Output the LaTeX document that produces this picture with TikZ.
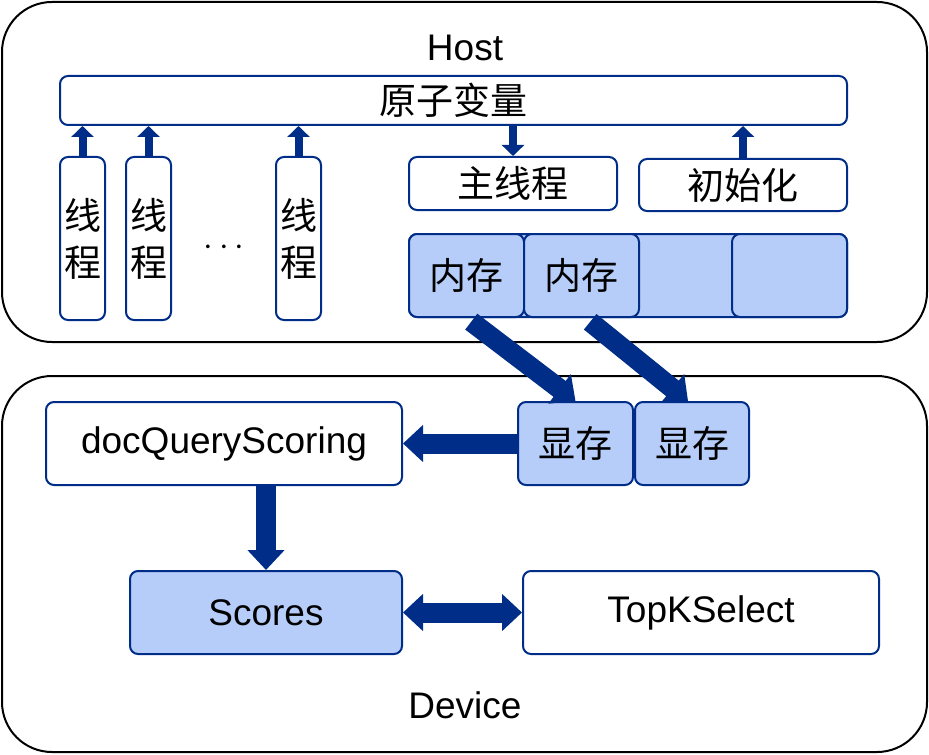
\documentclass[tikz,border=0pt]{standalone}
\usepackage{fontspec}
\setmainfont{Liberation Sans}
\newfontfamily\cjk{Noto Sans CJK SC}
\usetikzlibrary{arrows.meta}
\definecolor{navy}{RGB}{0,45,135}
\definecolor{memblue}{RGB}{182,205,250}
\tikzset{
    outerbox/.style={draw=black, line width=1pt, rounded corners=25pt, inner sep=0pt},
    unitbox/.style={draw=navy, line width=1pt, fill=white, rounded corners=4pt, inner sep=0pt,
        font=\fontsize{18.5pt}{23.5pt}\selectfont},
    membox/.style={unitbox, fill=memblue},
    thinarrow/.style={navy, line width=4pt, -{Triangle[width=11pt,length=5.5pt]}},
    fatarrow/.style={navy, line width=10pt, -{Triangle[width=18pt,length=10pt]}},
    fatboth/.style={navy, line width=10pt, {Triangle[width=18pt,length=10pt]}-{Triangle[width=18pt,length=10pt]}}
}
\begin{document}
\begin{tikzpicture}[x=0.5pt, y=-0.5pt]
    \useasboundingbox (0,0) rectangle (929,754);

    % Host side
    \node[outerbox, minimum width=462.5pt, minimum height=170pt] (host) at (464.5,172) {};
    \node[font=\fontsize{18.5pt}{22pt}\selectfont] (hostlabel) at (465,48) {Host};
    \node[unitbox, minimum width=393.5pt, minimum height=24.5pt] (atom) at (453.5,100.5) {\cjk 原子变量};

    % Worker threads
    \node[unitbox, minimum width=22.5pt, minimum height=81.5pt, align=center] (thr1) at (82.5,238.5) {\cjk 线\\\cjk 程};
    \node[unitbox, minimum width=22.5pt, minimum height=81.5pt, align=center] (thr2) at (148.5,238.5) {\cjk 线\\\cjk 程};
    \node[unitbox, minimum width=22.5pt, minimum height=81.5pt, align=center] (thr3) at (298.5,238.5) {\cjk 线\\\cjk 程};
    \node[font=\fontsize{16pt}{20pt}\selectfont] (dots) at (224,248) {$\cdots$};
    \foreach \t in {thr1,thr2,thr3}
        \draw[thinarrow] (\t.north) -- (\t.north |- atom.south);

    % Main thread and init
    \node[unitbox, minimum width=104pt, minimum height=26.5pt] (mainthr) at (513,183.5) {\cjk 主线程};
    \node[unitbox, minimum width=104pt, minimum height=26pt] (init) at (743,185) {\cjk 初始化};
    \draw[thinarrow] (mainthr.north |- atom.south) -- (mainthr.north);
    \draw[thinarrow] (init.north) -- (init.north |- atom.south);

    % Host memory
    \node[membox, minimum width=219pt, minimum height=41.5pt] (memrow) at (628,275.5) {};
    \node[membox, minimum width=57.5pt, minimum height=41.5pt] (mem1) at (466.5,275.5) {\cjk 内存};
    \node[membox, minimum width=57.5pt, minimum height=41.5pt] (mem2) at (581.5,275.5) {\cjk 内存};
    \node[membox, minimum width=57.5pt, minimum height=41.5pt] (memlast) at (789.5,275.5) {};

    % Device side
    \node[outerbox, minimum width=462.5pt, minimum height=188pt] (device) at (464.5,564) {};
    \node[font=\fontsize{18.5pt}{22pt}\selectfont] (devlabel) at (465,705) {Device};
    \node[membox, minimum width=57.5pt, minimum height=41.5pt] (vram1) at (575.5,443.5) {\cjk 显存};
    \node[membox, minimum width=57pt, minimum height=41.5pt] (vram2) at (692,443.5) {\cjk 显存};
    \node[unitbox, minimum width=178pt, minimum height=41.5pt] (scoring) at (224,443.5) {docQueryScoring};
    \node[membox, minimum width=136pt, minimum height=41.5pt] (scores) at (266,612.5) {Scores};
    \node[unitbox, minimum width=178pt, minimum height=41.5pt] (topk) at (701,612.5) {TopKSelect};

    % Transfers
    \draw[fatarrow, shorten <=3pt] (mem1.south) -- (vram1.north);
    \draw[fatarrow, shorten <=3pt] ([xshift=2pt]mem2.south) -- ([xshift=-2pt]vram2.north);
    \draw[fatarrow] (vram1.west) -- (scoring.east);
    \draw[fatarrow] (scoring.south -| scores.north) -- (scores.north);
    \draw[fatboth] (scores.east) -- (topk.west);
\end{tikzpicture}
\end{document}
